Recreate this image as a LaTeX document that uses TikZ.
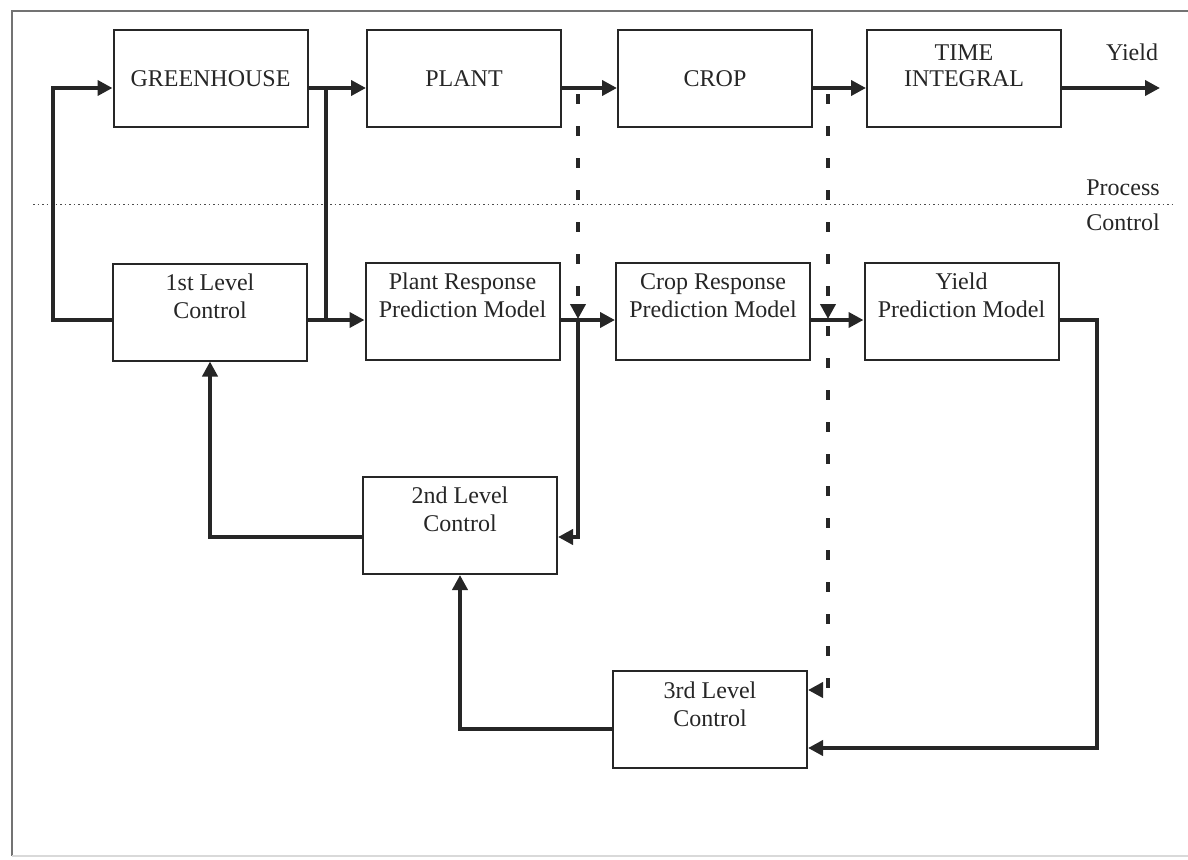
\documentclass[tikz,border=0pt]{standalone}
\usepackage{fontspec}
\setmainfont{Liberation Serif}
\usetikzlibrary{arrows.meta}
\begin{document}
\begin{tikzpicture}[x=1pt,y=-1pt,
  box/.style={draw=black!85, line width=2pt, minimum width=194pt, minimum height=97pt, inner sep=0pt},
  lbl/.style={font=\fontsize{24}{28}\selectfont, text=black!85, inner sep=0pt, anchor=base},
  tip/.style={-{Triangle[length=15pt,width=15pt]}},
  flow/.style={line width=4.5pt, draw=black!85},
  arr/.style={flow, tip},
  dsh/.style={line width=4pt, draw=black!85, dash pattern=on 10pt off 22pt, dash phase=-6pt, tip}]
\useasboundingbox (0,0) rectangle (1188,859);
% frame
\draw[black!55, line width=1.5pt] (1188,11) -- (12,11) -- (12,856);
\draw[black!15, line width=1.5pt] (12,856) -- (1188,856);
% reference rows / columns
\coordinate (r1) at (0,88);
\coordinate (r2) at (0,320);
\coordinate (e2) at (0,537);
\coordinate (e3) at (0,690);
\coordinate (e4) at (0,748);
\coordinate (e5) at (0,729);
\coordinate (lx) at (53,0);
\coordinate (jx) at (326,0);
\coordinate (d1) at (578,0);
\coordinate (d2) at (828,0);
\coordinate (rx) at (1097,0);
\coordinate (yend) at (1160,88);
\coordinate (sepL) at (33,204);
\coordinate (sepR) at (1176,204);
% boxes
\node[box] (gh)  at (210.5,78.5) {};
\node[box] (pl)  at (464,78.5) {};
\node[box] (cr)  at (715,78.5) {};
\node[box] (ti)  at (964,78.5) {};
\node[box] (c1)  at (210,312) {};
\node[box] (pr)  at (462.5,311.5) {};
\node[box] (crp) at (713,311.5) {};
\node[box] (yp)  at (961.5,311.5) {};
\node[box] (c2)  at (460,525.5) {};
\node[box] (c3)  at (710,719.5) {};
% texts
\node[lbl] (ght) at (210.5,86) {GREENHOUSE};
\node[lbl] (plt) at (464,86) {PLANT};
\node[lbl] (crt) at (715,86) {CROP};
\node[lbl] (tit1) at (964,60) {TIME};
\node[lbl] (tit2) at (964,86) {INTEGRAL};
\node[lbl] (c1t1) at (210,290) {1st Level};
\node[lbl] (c1t2) at (210,318) {Control};
\node[lbl] (prt1) at (462.5,289) {Plant Response};
\node[lbl] (prt2) at (462.5,317) {Prediction Model};
\node[lbl] (crpt1) at (713,289) {Crop Response};
\node[lbl] (crpt2) at (713,317) {Prediction Model};
\node[lbl] (ypt1) at (961.5,289) {Yield};
\node[lbl] (ypt2) at (961.5,317) {Prediction Model};
\node[lbl] (c2t1) at (460,503) {2nd Level};
\node[lbl] (c2t2) at (460,531) {Control};
\node[lbl] (c3t1) at (710,698) {3rd Level};
\node[lbl] (c3t2) at (710,726) {Control};
\node[lbl] (yt) at (1132,60) {Yield};
\node[lbl] (pt) at (1123,195) {Process};
\node[lbl] (ct) at (1123,230) {Control};
% separator
\draw[black!70, line width=1pt, dash pattern=on 1.5pt off 3pt] (sepL) -- (sepR);
% process chain
\draw[arr] (c1.west|-r2) -| (lx|-r1) -- (gh.west|-r1);
\draw[arr] (gh.east|-r1) -- (pl.west|-r1);
\draw[flow] (jx|-r1) -- (jx|-r2);
\draw[arr] (pl.east|-r1) -- (cr.west|-r1);
\draw[arr] (cr.east|-r1) -- (ti.west|-r1);
\draw[arr] (ti.east|-r1) -- (yend);
% control chain
\draw[arr] (c1.east|-r2) -- (pr.west|-r2);
\draw[arr] (pr.east|-r2) -- (crp.west|-r2);
\draw[arr] (crp.east|-r2) -- (yp.west|-r2);
% measurements
\draw[dsh] (d1|-r1) -- ([yshift=1pt]d1|-r2);
\draw[dsh] (d2|-r1) -- ([yshift=1pt]d2|-r2);
\draw[dsh] (d2|-r2) |- (c3.east|-e3);
% feedback
\draw[arr] (d1|-r2) |- (c2.east|-e2);
\draw[arr] (c2.west|-e2) -| (c1.south);
\draw[arr] (yp.east|-r2) -| (rx|-e4) -- (c3.east|-e4);
\draw[arr] (c3.west|-e5) -| (c2.south);
\end{tikzpicture}
\end{document}
